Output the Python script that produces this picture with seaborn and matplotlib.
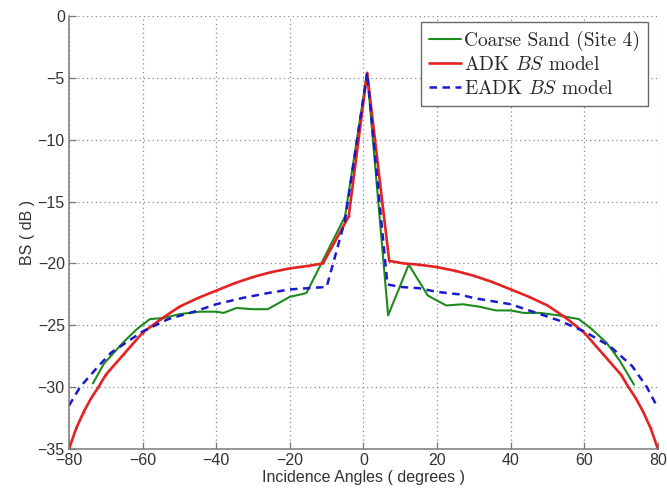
import matplotlib
matplotlib.use("Agg")
import matplotlib.pyplot as plt
import seaborn as sns
import pandas as pd

# ---- data ----
sand_angle = [-73.5, -70.5, -65, -61.5, -58, -54, -50, -44.5, -40, -38, -34.5, -30, -26, -20,
              -15.5, -5, 1, 6.7, 12.3, 17.5, 22.5, 27, 31.5, 36, 40, 43.5, 48, 53, 58.5,
              62, 66, 69.5, 73.5]
sand_bs = [-29.7, -28.1, -26.3, -25.3, -24.5, -24.4, -24.1, -23.9, -23.9, -24.0, -23.6, -23.7,
           -23.7, -22.7, -22.4, -16.2, -4.6, -24.2, -20.1, -22.6, -23.4, -23.3, -23.5, -23.8,
           -23.8, -24.0, -24.0, -24.2, -24.5, -25.3, -26.4, -27.8, -29.8]

adk_angle = [-80, -78, -76, -74, -72, -70, -65, -60, -55, -50, -45, -40, -35, -30, -25, -20,
             -15, -11, -4, 1, 7, 11, 15, 20, 25, 30, 35, 40, 45, 50, 55, 60, 65, 70, 72, 74,
             76, 78, 80]
adk_bs = [-35.0, -33.3, -32.0, -30.9, -30.0, -29.0, -27.3, -25.6, -24.5, -23.5, -22.8, -22.2,
          -21.6, -21.1, -20.7, -20.4, -20.2, -20.0, -16.2, -4.6, -19.8, -20.0, -20.1, -20.3,
          -20.6, -21.0, -21.5, -22.1, -22.7, -23.4, -24.4, -25.6, -27.3, -29.0, -30.0, -30.9,
          -32.0, -33.3, -35.0]

eadk_angle = [-80, -77, -72, -68.5, -64, -60, -53, -46, -40, -33, -26, -20, -15, -10, -5, 1,
              6.5, 10, 15, 20, 26, 30, 40, 48, 53, 60, 67, 73, 77, 80]
eadk_bs = [-31.5, -30.0, -28.3, -27.2, -26.3, -25.5, -24.5, -23.9, -23.3, -22.8, -22.4, -22.1,
           -22.0, -21.9, -16.5, -4.6, -21.7, -21.9, -22.0, -22.3, -22.5, -22.8, -23.3, -24.1,
           -24.6, -25.5, -26.7, -28.3, -30.0, -31.7]

x_ticks = [-80, -60, -40, -20, 0, 20, 40, 60, 80]
y_ticks = [0, -5, -10, -15, -20, -25, -30, -35]

labels = ["Coarse Sand (Site 4)", "ADK $BS$ model", "EADK $BS$ model"]

# ---- styling ----
sns.set_theme(style="white")
plt.rcParams["font.family"] = ["Liberation Sans", "DejaVu Sans"]
plt.rcParams["mathtext.fontset"] = "cm"

fig = plt.figure(figsize=(6.67, 4.91), dpi=100)
ax = fig.add_axes([0.1034, 0.0855, 0.883, 0.882])

df_sand = pd.DataFrame({"angle": sand_angle, "bs": sand_bs})
df_adk = pd.DataFrame({"angle": adk_angle, "bs": adk_bs})
df_eadk = pd.DataFrame({"angle": eadk_angle, "bs": eadk_bs})

sns.lineplot(data=df_sand, x="angle", y="bs", ax=ax, color="#1e8a1e", linewidth=1.5,
             label=labels[0], estimator=None, sort=False)
sns.lineplot(data=df_adk, x="angle", y="bs", ax=ax, color="#e52222", linewidth=1.9,
             marker=".", markersize=3, markeredgewidth=0,
             label=labels[1], estimator=None, sort=False)
sns.lineplot(data=df_eadk, x="angle", y="bs", ax=ax, color="#1a1acc", linewidth=1.8,
             linestyle=(0, (3.0, 2.2)), label=labels[2], estimator=None, sort=False)

ax.set_xlim(-80, 80)
ax.set_ylim(-35, 0)
ax.set_xticks(x_ticks)
ax.set_yticks(y_ticks)
ax.grid(True, linestyle=(0, (1, 2.5)), color="#8a8a8a", linewidth=0.9)

for side in ["top", "right"]:
    ax.spines[side].set_visible(False)
for side in ["left", "bottom"]:
    ax.spines[side].set_color("#7a7a7a")
    ax.spines[side].set_linewidth(1.1)

ax.tick_params(axis="both", direction="in", length=5, width=0.9, color="#7a7a7a",
               labelsize=11.5, labelcolor="#333333", pad=3,
               bottom=True, left=True, top=False, right=False)

ax.set_xlabel("Incidence Angles ( degrees )", fontsize=11.5, color="#333333", labelpad=1)
ax.set_ylabel("BS ( dB )", fontsize=11.5, color="#333333", labelpad=2)

leg = ax.legend(loc="upper right", bbox_to_anchor=(0.9835, 0.985),
                prop={"family": "cmr10", "size": 14},
                frameon=True, fancybox=False, edgecolor="#6a6a6a", framealpha=1,
                handlelength=1.65, handletextpad=0.15, labelspacing=0.28,
                borderpad=0.42, borderaxespad=0.0)
leg.get_frame().set_linewidth(1.0)

fig.savefig("out.png", dpi=100)
